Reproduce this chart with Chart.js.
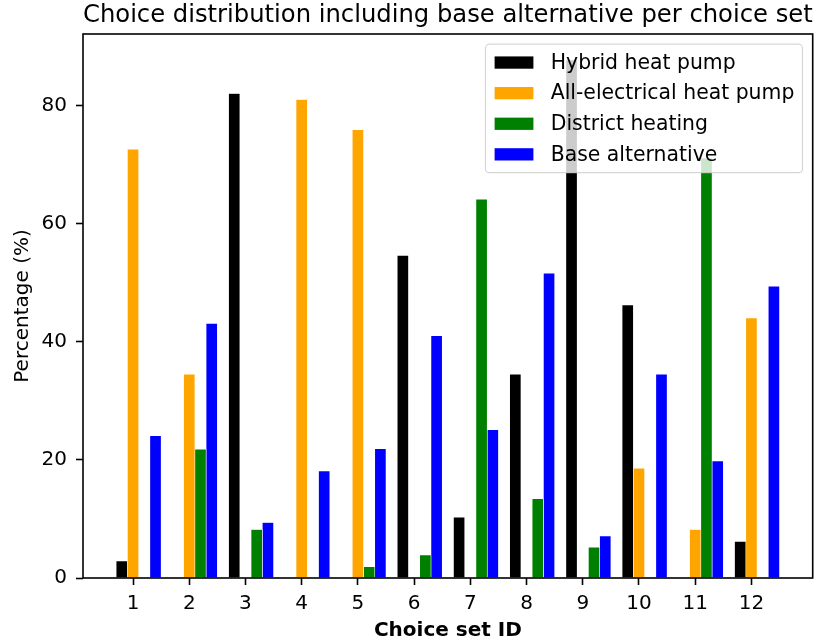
<!DOCTYPE html>
<html>
<head>
<meta charset="utf-8">
<title>Choice distribution</title>
<script src="https://cdn.jsdelivr.net/npm/chart.js@4.4.1/dist/chart.umd.min.js"></script>
<style>
  html, body { margin: 0; padding: 0; background: #ffffff; }
  canvas { display: block; }
</style>
</head>
<body>
<canvas id="chart" width="820" height="644"></canvas>
<script>
// ---- data -------------------------------------------------------------
const choiceSetIds = [1, 2, 3, 4, 5, 6, 7, 8, 9, 10, 11, 12];
const xTickLabels = choiceSetIds.map(String);
const seriesNames = ['Hybrid heat pump', 'All-electrical heat pump', 'District heating', 'Base alternative'];

// share of respondents (%) choosing each option, per choice set
const hybridHeatPump        = [2.9, 0, 82.0, 0, 0, 54.6, 10.3, 34.5, 87.7, 46.2, 0, 6.2];
const allElectricalHeatPump = [72.6, 34.5, 0, 81.0, 75.9, 0, 0, 0, 0, 18.6, 8.2, 44.0];
const districtHeating       = [0, 21.8, 8.2, 0, 1.9, 3.9, 64.1, 13.4, 5.2, 0, 71.1, 0];
const baseAlternative       = [24.1, 43.1, 9.4, 18.1, 21.9, 41.0, 25.1, 51.6, 7.1, 34.5, 19.8, 49.4];

const yTickValues = [0, 20, 40, 60, 80];

// ---- styling ----------------------------------------------------------
const FONT = '"DejaVu Sans", "Liberation Sans", sans-serif';
const seriesColors = ['#000000', '#ffa500', '#008000', '#0000ff'];
const BAR_WIDTH = 0.2;          // in x-axis units; bars sit at id + (k - 1) * width
const MARGIN = 0.05;            // autoscale margin on both axes
const seriesValues = [hybridHeatPump, allElectricalHeatPump, districtHeating, baseAlternative];

const datasets = seriesValues.map((vals, k) => ({
  label: seriesNames[k],
  data: choiceSetIds.map((id, i) => ({ x: id + (k - 1) * BAR_WIDTH, y: vals[i] })),
  backgroundColor: seriesColors[k],
  borderColor: '#ffffff',
  borderWidth: 0.6,
  grouped: false,
  categoryPercentage: 1,
  barPercentage: 1
}));

// x limits: outer bar edges plus margin
const xLo = Math.min(...choiceSetIds) - BAR_WIDTH - BAR_WIDTH / 2;
const xHi = Math.max(...choiceSetIds) + 2 * BAR_WIDTH + BAR_WIDTH / 2;
const xPad = (xHi - xLo) * MARGIN;
// y limits: zero up to tallest bar plus margin
const yMax = Math.max(...seriesValues.flat()) * (1 + MARGIN);

// ---- plugins ----------------------------------------------------------
// axes box on all four sides + legend panel in the upper-right corner
const framedLegend = {
  id: 'framedLegend',
  afterDatasetsDraw(chart) {
    const ctx = chart.ctx;
    const a = chart.chartArea;
    ctx.save();

    // axes frame
    ctx.strokeStyle = '#000000';
    ctx.lineWidth = 1.6;
    ctx.strokeRect(a.left, a.top, a.right - a.left, a.bottom - a.top);

    // legend
    const fs = 20.4;
    ctx.font = fs + 'px ' + FONT;
    const pad = 0.4 * fs, handleLen = 2 * fs, handleH = 0.7 * fs;
    const textPad = 0.8 * fs, rowH = fs, gap = 0.5 * fs, axPad = 0.5 * fs;
    const items = chart.data.datasets.map(d => ({ text: d.label, color: d.backgroundColor }));
    const maxW = Math.max(...items.map(it => ctx.measureText(it.text).width));
    const w = pad + handleLen + textPad + maxW + pad;
    const h = 2 * pad + items.length * rowH + (items.length - 1) * gap;
    const x0 = a.right - axPad - w;
    const y0 = a.top + axPad;

    const r = 4;
    ctx.beginPath();
    ctx.moveTo(x0 + r, y0);
    ctx.lineTo(x0 + w - r, y0);
    ctx.arcTo(x0 + w, y0, x0 + w, y0 + r, r);
    ctx.lineTo(x0 + w, y0 + h - r);
    ctx.arcTo(x0 + w, y0 + h, x0 + w - r, y0 + h, r);
    ctx.lineTo(x0 + r, y0 + h);
    ctx.arcTo(x0, y0 + h, x0, y0 + h - r, r);
    ctx.lineTo(x0, y0 + r);
    ctx.arcTo(x0, y0, x0 + r, y0, r);
    ctx.closePath();
    ctx.fillStyle = 'rgba(255,255,255,0.8)';
    ctx.fill();
    ctx.strokeStyle = 'rgba(204,204,204,0.8)';
    ctx.lineWidth = 1.2;
    ctx.stroke();

    ctx.textAlign = 'left';
    ctx.textBaseline = 'middle';
    items.forEach((it, i) => {
      const cy = y0 + pad + rowH / 2 + i * (rowH + gap);
      ctx.fillStyle = it.color;
      ctx.fillRect(x0 + pad + 1, cy - handleH / 2 + 1, handleLen - 2, handleH - 2);
      ctx.fillStyle = '#000000';
      ctx.fillText(it.text, x0 + pad + handleLen + textPad, cy + 1);
    });

    ctx.restore();
  }
};

// ---- chart ------------------------------------------------------------
Chart.defaults.font.family = FONT;
Chart.defaults.color = '#000000';

new Chart(document.getElementById('chart'), {
  type: 'bar',
  data: { datasets },
  options: {
    responsive: false,
    animation: false,
    devicePixelRatio: 1,
    layout: { padding: { left: 0, right: 7.3, top: 0, bottom: 0 } },
    plugins: {
      legend: { display: false },
      tooltip: { enabled: false },
      title: {
        display: true,
        text: 'Choice distribution including base alternative per choice set',
        fullSize: false,
        color: '#000000',
        font: { size: 24.5, weight: 'normal', family: FONT },
        padding: { top: 1.3, bottom: 3.3 }
      }
    },
    scales: {
      x: {
        type: 'linear',
        offset: false,
        min: xLo - xPad,
        max: xHi + xPad,
        afterBuildTicks(scale) { scale.ticks = choiceSetIds.map(v => ({ value: v })); },
        afterFit(scale) { scale.height = 66; },
        ticks: {
          autoSkip: false,
          maxRotation: 0,
          padding: 6.7,
          font: { size: 20 },
          color: '#000000',
          callback: (v) => xTickLabels[choiceSetIds.indexOf(v)]
        },
        grid: { display: true, offset: false, drawOnChartArea: false, drawTicks: true, tickLength: 7, tickWidth: 1.6, tickColor: '#000000' },
        border: { display: false },
        title: {
          display: true,
          text: 'Choice set ID',
          color: '#000000',
          font: { size: 20, weight: 'bold' },
          padding: { top: 0, bottom: 1.4 }
        }
      },
      y: {
        type: 'linear',
        min: 0,
        max: yMax,
        afterBuildTicks(scale) { scale.ticks = yTickValues.map(v => ({ value: v })); },
        afterFit(scale) { scale.width = 83; },
        ticks: {
          padding: 9,
          font: { size: 20 },
          color: '#000000',
          callback: (v) => String(v)
        },
        grid: { display: true, offset: false, drawOnChartArea: false, drawTicks: true, tickLength: 7, tickWidth: 1.6, tickColor: '#000000' },
        border: { display: false },
        title: {
          display: true,
          text: 'Percentage (%)',
          color: '#000000',
          font: { size: 20, weight: 'normal' },
          padding: { top: 10.5, bottom: 0 }
        }
      }
    }
  },
  plugins: [framedLegend]
});
</script>
</body>
</html>
